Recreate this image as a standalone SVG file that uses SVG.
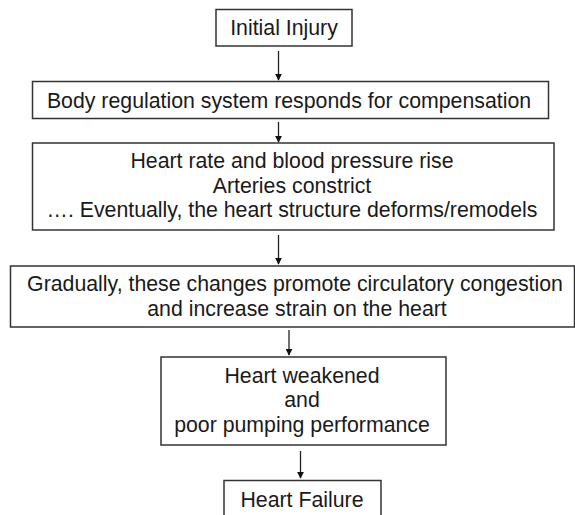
<svg xmlns="http://www.w3.org/2000/svg" width="575" height="515" viewBox="0 0 575 515">
<style>
.box{fill:#fff;stroke:#333;stroke-width:1.5}
.t{font-family:"Liberation Sans",Arial,sans-serif;font-size:21.3px;fill:#1a1a1a;text-anchor:middle}
.c{stroke:#222;stroke-width:1.3;fill:none;marker-end:url(#ah)}
</style>
<defs>
<marker id="ah" viewBox="0 0 10 10" refX="9" refY="5" markerWidth="7" markerHeight="7" orient="auto" markerUnits="userSpaceOnUse">
<path d="M0,0 L10,5 L0,10 z" fill="#111"/>
</marker>
</defs>
<rect width="575" height="515" fill="#fff"/>
<g id="connectors">
<line class="c" x1="278.5" y1="51" x2="278.5" y2="80"/>
<line class="c" x1="278.5" y1="122" x2="278.5" y2="142"/>
<line class="c" x1="278.5" y1="235" x2="278.5" y2="264"/>
<line class="c" x1="289" y1="330" x2="289" y2="355"/>
<line class="c" x1="300.5" y1="451" x2="300.5" y2="478"/>
</g>
<g id="n1">
<rect class="box" x="216" y="9.5" width="136" height="36.5"/>
<text class="t" x="284" y="35">Initial Injury</text>
</g>
<g id="n2">
<rect class="box" x="32.5" y="81.5" width="516" height="37"/>
<text class="t" x="289" y="108">Body regulation system responds for compensation</text>
</g>
<g id="n3">
<rect class="box" x="32.5" y="143" width="521.5" height="87"/>
<text class="t" x="292" y="168">Heart rate  and blood pressure rise</text>
<text class="t" x="292" y="193">Arteries constrict</text>
<text class="t" x="292" y="217">…. Eventually, the heart structure deforms/remodels</text>
</g>
<g id="n4">
<rect class="box" x="10.5" y="266" width="564" height="61"/>
<text class="t" x="295" y="291">Gradually, these changes promote circulatory congestion</text>
<text class="t" x="297" y="316">and increase strain on the heart</text>
</g>
<g id="n5">
<rect class="box" x="161" y="357" width="285" height="88"/>
<text class="t" x="302" y="383">Heart weakened</text>
<text class="t" x="302" y="407">and</text>
<text class="t" x="302" y="432">poor pumping performance</text>
</g>
<g id="n6">
<rect class="box" x="224" y="480.5" width="157" height="40"/>
<text class="t" x="302" y="507">Heart Failure</text>
</g>
</svg>
